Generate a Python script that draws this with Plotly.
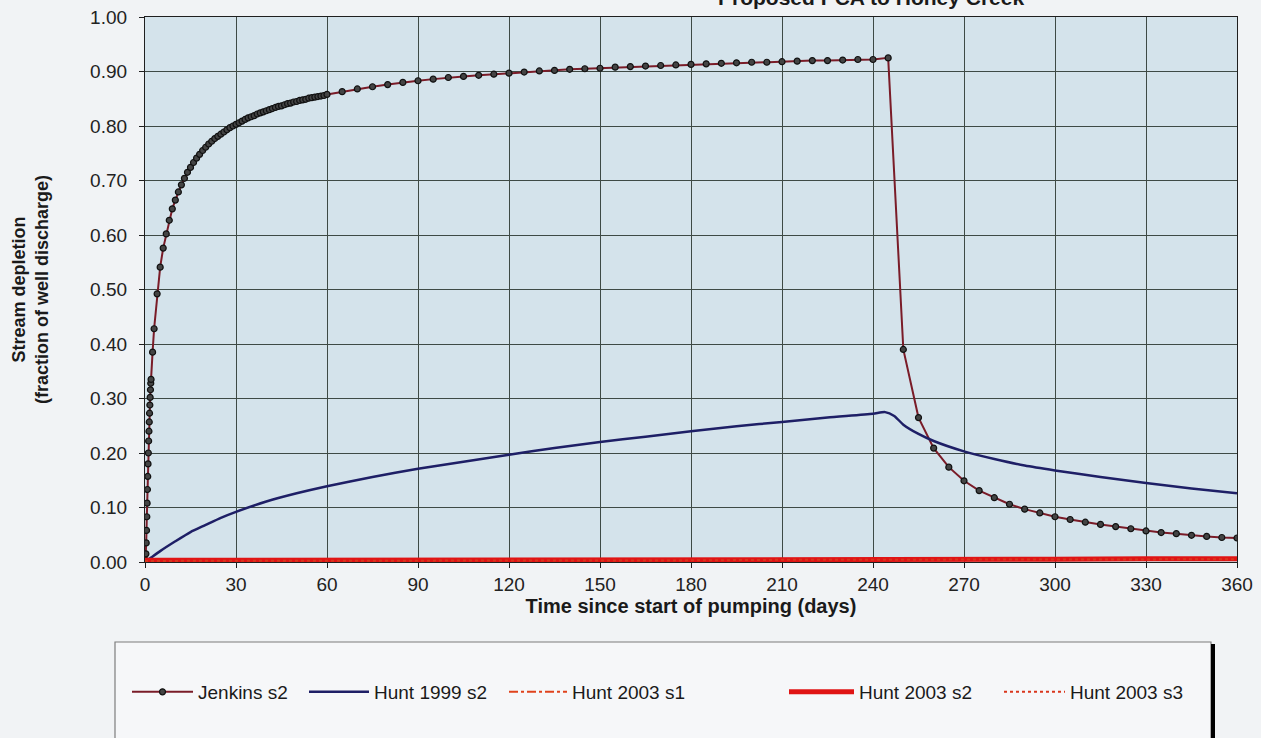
import plotly.graph_objects as go

# ---------------- data ----------------
jenkins_days = [0, 0.1, 0.2, 0.3, 0.4, 0.5, 0.6, 0.7, 0.8, 0.9, 1.0, 1.1, 1.2, 1.3, 1.4, 1.5, 1.6, 1.7, 1.8, 1.9,
                2, 2.5, 3, 4, 5, 6, 7, 8, 9, 10, 11, 12, 13, 14, 15, 16, 17, 18, 19, 20,
                21, 22, 23, 24, 25, 26, 27, 28, 29, 30, 31, 32, 33, 34, 35, 36, 37, 38, 39, 40,
                41, 42, 43, 44, 45, 46, 47, 48, 49, 50, 51, 52, 53, 54, 55, 56, 57, 58, 59, 60,
                65, 70, 75, 80, 85, 90, 95, 100, 105, 110, 115, 120, 125, 130, 135, 140, 145, 150,
                155, 160, 165, 170, 175, 180, 185, 190, 195, 200, 205, 210, 215, 220, 225, 230,
                235, 240, 245, 250, 255, 260, 265, 270, 275, 280, 285, 290, 295, 300, 305, 310,
                315, 320, 325, 330, 335, 340, 345, 350, 355, 360]
jenkins_depletion = [0.000, 0.000, 0.003, 0.015, 0.035, 0.058, 0.083, 0.108, 0.133, 0.157, 0.180, 0.200,
                     0.222, 0.240, 0.257, 0.273, 0.288, 0.302, 0.316, 0.328,
                     0.335, 0.385, 0.428, 0.492, 0.541, 0.576, 0.602, 0.627, 0.648, 0.664, 0.679, 0.692,
                     0.704, 0.715, 0.724, 0.733, 0.741, 0.748, 0.755, 0.761,
                     0.767, 0.772, 0.777, 0.781, 0.785, 0.789, 0.793, 0.797, 0.800, 0.803,
                     0.806, 0.809, 0.812, 0.815, 0.817, 0.819, 0.822, 0.824, 0.826, 0.828,
                     0.830, 0.832, 0.834, 0.836, 0.837, 0.839, 0.841, 0.842, 0.844, 0.845,
                     0.847, 0.848, 0.849, 0.851, 0.852, 0.853, 0.854, 0.855, 0.856, 0.858,
                     0.863, 0.868, 0.872, 0.876, 0.880, 0.883, 0.886, 0.889, 0.891, 0.893, 0.895, 0.897,
                     0.899, 0.901, 0.902, 0.904, 0.905, 0.906, 0.908, 0.909, 0.910, 0.911, 0.912, 0.913,
                     0.914, 0.915, 0.916, 0.917, 0.917, 0.918, 0.919, 0.920, 0.920, 0.921, 0.922, 0.922,
                     0.925, 0.390, 0.265, 0.209, 0.174, 0.149, 0.131, 0.118, 0.106, 0.097, 0.090, 0.083,
                     0.078, 0.073, 0.069, 0.065, 0.061, 0.057, 0.054, 0.052, 0.049, 0.047, 0.045, 0.044]

hunt1999_days = [0, 2, 5, 10, 15, 20, 25, 30, 40, 50, 60, 75, 90, 105, 120, 135, 150, 165, 180, 195,
                 210, 225, 240, 244, 247, 250, 255, 260, 270, 280, 290, 300, 315, 330, 345, 360]
hunt1999_depletion = [0.000, 0.008, 0.020, 0.038, 0.055, 0.068, 0.081, 0.092, 0.111, 0.126, 0.139, 0.156,
                      0.171, 0.184, 0.197, 0.209, 0.220, 0.230, 0.240, 0.249, 0.257, 0.265, 0.272, 0.275,
                      0.268, 0.252, 0.235, 0.222, 0.203, 0.189, 0.177, 0.168, 0.156, 0.145, 0.135, 0.126]

hunt2003_days = [0, 30, 60, 90, 120, 150, 180, 210, 240, 270, 300, 330, 360]
hunt2003_s1 = [0.002, 0.002, 0.003, 0.003, 0.003, 0.004, 0.004, 0.005, 0.005, 0.005, 0.006, 0.006, 0.006]
hunt2003_s2 = [0.003, 0.003, 0.003, 0.003, 0.004, 0.004, 0.004, 0.004, 0.005, 0.005, 0.005, 0.006, 0.006]
hunt2003_s3 = [0.002, 0.002, 0.002, 0.003, 0.003, 0.003, 0.003, 0.004, 0.004, 0.004, 0.004, 0.005, 0.005]

series_names = ["Jenkins s2", "Hunt 1999 s2", "Hunt 2003 s1", "Hunt 2003 s2", "Hunt 2003 s3"]
x_ticks = [0, 30, 60, 90, 120, 150, 180, 210, 240, 270, 300, 330, 360]
y_ticks = [0.0, 0.1, 0.2, 0.3, 0.4, 0.5, 0.6, 0.7, 0.8, 0.9, 1.0]

chart_title = "Proposed PCA to Honey Creek"
x_title = "Time since start of pumping (days)"
y_title = "Stream depletion<br>(fraction of well discharge)"

# ---------------- figure ----------------
W, H = 1261, 738
PLOT_L, PLOT_T, PLOT_R, PLOT_B = 145, 17, 1237, 562   # plot area in window pixels
L, T = PLOT_L, PLOT_T
PW, PH = PLOT_R - PLOT_L, PLOT_B - PLOT_T
R, B = W - L - PW, H - T - PH
FONT = "Arial, 'Liberation Sans', sans-serif"
PAPER = "#f1f3f5"


def px_x(px):
    return (px - PLOT_L) / PW


def px_y(py):
    return (PLOT_B - py) / PH


fig = go.Figure()

fig.add_trace(go.Scatter(
    x=jenkins_days, y=jenkins_depletion, name=series_names[0], mode="lines+markers",
    line=dict(color="#7a1c28", width=2),
    marker=dict(symbol="circle", size=6, color="#444444", line=dict(color="#111111", width=1.2)),
    legend="legend"))
fig.add_trace(go.Scatter(
    x=hunt1999_days, y=hunt1999_depletion, name=series_names[1], mode="lines",
    line=dict(color="#1e1f66", width=2.5, shape="spline", smoothing=0.6), legend="legend2"))
fig.add_trace(go.Scatter(
    x=hunt2003_days, y=hunt2003_s1, name=series_names[2], mode="lines",
    line=dict(color="#e0431c", width=2, dash="dashdot"), legend="legend3"))
fig.add_trace(go.Scatter(
    x=hunt2003_days, y=hunt2003_s2, name=series_names[3], mode="lines",
    line=dict(color="#e01414", width=5), legend="legend4"))
fig.add_trace(go.Scatter(
    x=hunt2003_days, y=hunt2003_s3, name=series_names[4], mode="lines",
    line=dict(color="#d9361c", width=2, dash="dot"), legend="legend5"))

legend_line_start = [135, 312, 512, 792, 1007]
legend_item_width = [61, 60, 58, 65, 61]
legend_keys = ["legend", "legend2", "legend3", "legend4", "legend5"]
legend_y = px_y(692)
legend_layouts = {}
for key, xs, iw in zip(legend_keys, legend_line_start, legend_item_width):
    legend_layouts[key] = dict(
        x=px_x(xs - 8), y=legend_y, xanchor="left", yanchor="middle",
        orientation="h", bgcolor="rgba(0,0,0,0)", borderwidth=0,
        itemwidth=iw, font=dict(family=FONT, size=19, color="#1a1a1a"))

axis_common = dict(
    showline=True, linecolor="#1f1f1f", linewidth=1.2, mirror=True,
    showgrid=True, gridcolor="#3e4a45", gridwidth=1,
    ticks="outside", ticklen=5, tickcolor="#1f1f1f",
    tickfont=dict(family=FONT, size=19, color="#222222"),
    ticklabeloverflow="allow",
    zeroline=False)

fig.update_layout(
    width=W, height=H,
    margin=dict(l=L, r=R, t=T, b=B, autoexpand=False),
    paper_bgcolor=PAPER, plot_bgcolor="#d4e3eb",
    font=dict(family=FONT, color="#222222"),
    showlegend=True,
    xaxis=dict(range=[0, 360], tickvals=x_ticks, ticklabelstandoff=0,
               title=dict(text="<b>" + x_title + "</b>", font=dict(family=FONT, size=20, color="#1a1a1a"),
                          standoff=1),
               **axis_common),
    yaxis=dict(range=[0, 1], tickvals=y_ticks, tickformat=".2f", ticklabelstandoff=8,
               title=dict(text="<b>" + y_title + "</b>", font=dict(family=FONT, size=18, color="#1a1a1a"),
                          standoff=36),
               **axis_common),
    shapes=[
        dict(type="rect", xref="paper", yref="paper", layer="below",
             x0=px_x(115), x1=px_x(1211), y0=px_y(642), y1=px_y(770),
             fillcolor="#f6f7f9", line=dict(color="#7d7d7d", width=1.2)),
        dict(type="line", xref="paper", yref="paper",
             x0=px_x(1213), x1=px_x(1213), y0=px_y(644), y1=px_y(770),
             line=dict(color="#000000", width=4)),
    ],
    annotations=[
        dict(text="<b>" + chart_title + "</b>", xref="paper", yref="paper",
             x=px_x(871), y=px_y(-2), xanchor="center", yanchor="middle", showarrow=False,
             font=dict(family=FONT, size=21, color="#1a1a1a")),
    ],
    **legend_layouts,
)

fig.write_html("out.html", config={"displayModeBar": False},
               post_script="document.body.style.margin='0px';document.body.style.background='%s';" % PAPER)
